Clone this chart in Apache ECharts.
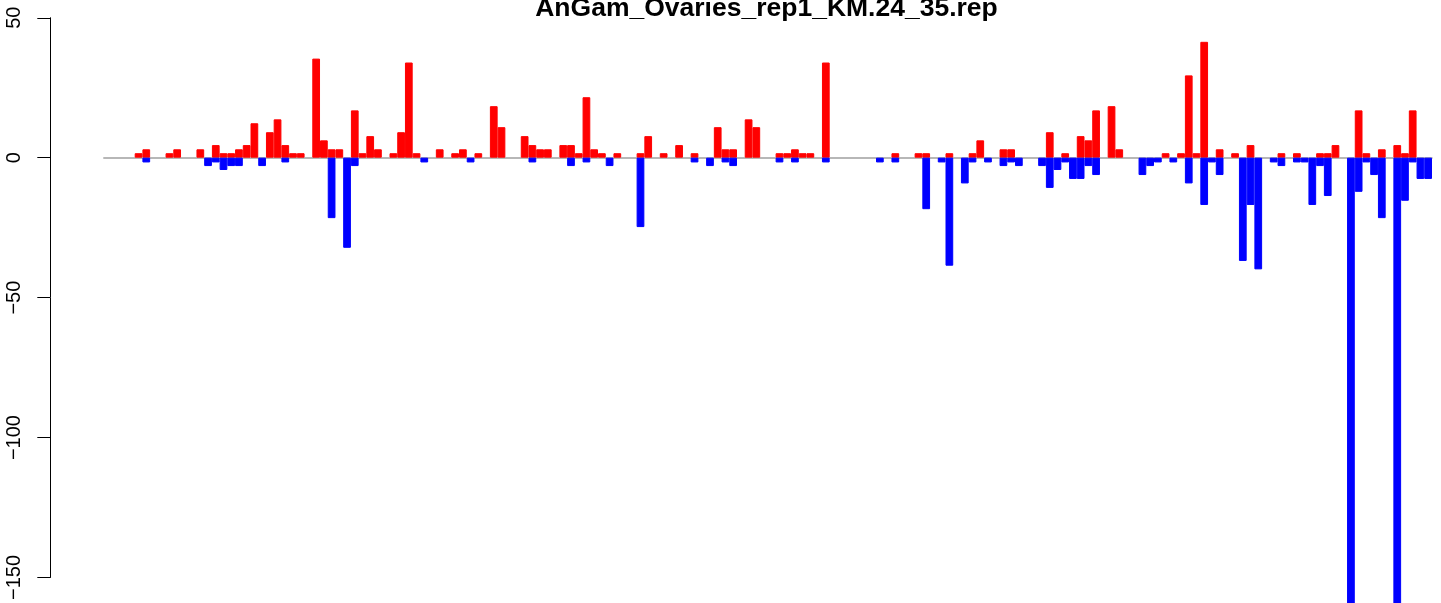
<!DOCTYPE html>
<html>
<head>
<meta charset="utf-8">
<script src="https://cdn.jsdelivr.net/npm/echarts@6/dist/echarts.min.js"></script>
<style>
html,body{margin:0;padding:0;background:#fff;}
#chart{width:1441px;height:603px;}
</style>
</head>
<body>
<div id="chart"></div>
<script>
const chartTitle = 'AnGam_Ovaries_rep1_KM.24_35.rep';
const yTicks = [-150, -100, -50, 0, 50];

const redValues = [
  0,0,0,0,1.6,3.0,0,0,1.6,3.0,
  0,0,3.0,0,4.5,1.6,1.6,3.0,4.5,12.3,
  0,9.1,13.7,4.5,1.6,1.6,0,35.4,6.2,3.0,
  3.0,0,16.9,1.6,7.7,3.0,0,1.6,9.1,34.0,
  1.6,0,0,3.0,0,1.6,3.0,0,1.6,0,
  18.4,10.9,0,0,7.7,4.5,3.0,3.0,0,4.5,
  4.5,1.6,21.6,3.0,1.6,0,1.6,0,0,1.6,
  7.7,0,1.6,0,4.5,0,1.6,0,0,10.9,
  3.0,3.0,0,13.7,10.9,0,0,1.6,1.6,3.0,
  1.6,1.6,0,34.0,0,0,0,0,0,0,
  0,0,1.6,0,0,1.6,1.6,0,0,1.6,
  0,0,1.6,6.2,0,0,3.0,3.0,0,0,
  0,0,9.1,0,1.6,0,7.7,6.2,16.9,0,
  18.4,3.0,0,0,0,0,0,1.6,0,1.6,
  29.4,1.6,41.4,0,3.0,0,1.6,0,4.5,0,
  0,0,1.6,0,1.6,0,0,1.6,1.6,4.5,
  0,0,16.9,1.6,0,3.0,0,4.5,1.6,16.9,
  0,0
];

const blueValues = [
  0,0,0,0,0,-1.7,0,0,0,0,
  0,0,0,-3.0,-1.7,-4.4,-3.0,-3.0,0,0,
  -3.0,0,0,-1.7,0,0,0,0,0,-21.6,
  0,-32.2,-3.0,0,0,0,0,0,0,0,
  0,-1.7,0,0,0,0,0,-1.7,0,0,
  0,0,0,0,0,-1.7,0,0,0,0,
  -3.0,0,-1.7,0,0,-3.0,0,0,0,-24.8,
  0,0,0,0,0,0,-1.7,0,-3.0,0,
  -1.7,-3.0,0,0,0,0,0,-1.7,0,-1.7,
  0,0,0,-1.7,0,0,0,0,0,0,
  -1.7,0,-1.7,0,0,0,-18.4,0,-1.7,-38.6,
  0,-9.2,-1.7,0,-1.7,0,-3.0,-1.7,-3.0,0,
  0,-3.0,-10.8,-4.4,-1.7,-7.6,-7.6,-3.0,-6.2,0,
  0,0,0,0,-6.2,-3.0,-1.7,0,-1.7,0,
  -9.2,0,-16.9,-1.7,-6.2,0,0,-36.9,-16.9,-39.9,
  0,-1.7,-3.0,0,-1.7,-1.7,-16.9,-3.0,-13.7,0,
  0,-160,-12.2,-1.7,-6.2,-21.6,0,-160,-15.4,-1.7,
  -7.6,-7.6
];

const categories = redValues.map((v, i) => String(i + 1));
// zero-height bars are left empty so they draw nothing over the baseline
const asBars = arr => arr.map(v => (v === 0 ? '-' : v));

const chart = echarts.init(document.getElementById('chart'), null, {renderer: 'canvas'});
chart.setOption({
  animation: false,
  backgroundColor: '#ffffff',
  title: {
    text: chartTitle,
    left: 766.5,
    top: -5,
    padding: 0,
    textAlign: 'center',
    textStyle: {
      fontFamily: 'Liberation Sans',
      fontWeight: 'bold',
      fontSize: 26.5,
      color: '#000'
    }
  },
  grid: {
    left: 103.8,
    right: 9,
    top: 17.75,
    bottom: 22.25,
    containLabel: false
  },
  xAxis: {
    type: 'category',
    data: categories,
    boundaryGap: true,
    axisLine: {show: true, onZero: true, lineStyle: {color: '#a0a0a0', width: 1.5}},
    axisTick: {show: false},
    axisLabel: {show: false},
    splitLine: {show: false}
  },
  yAxis: {
    type: 'value',
    min: yTicks[0],
    max: yTicks[yTicks.length - 1],
    interval: 50,
    offset: 53.5,
    axisLine: {show: true, lineStyle: {color: '#000', width: 1}},
    axisTick: {show: true, length: 13, lineStyle: {color: '#000', width: 1}},
    axisLabel: {
      show: true,
      rotate: 90,
      margin: 26,
      fontFamily: 'Liberation Sans',
      fontSize: 20,
      color: '#000',
      formatter: v => String(v).replace('-', '\u2212')
    },
    splitLine: {show: false}
  },
  series: [
    {
      name: 'up',
      type: 'bar',
      data: asBars(redValues),
      barWidth: '100%',
      barGap: '-100%',
      clip: false,
      itemStyle: {color: '#ff0000', borderColor: '#ff0000', borderWidth: 1}
    },
    {
      name: 'down',
      type: 'bar',
      data: asBars(blueValues),
      barWidth: '100%',
      barGap: '-100%',
      clip: false,
      itemStyle: {color: '#0000ff', borderColor: '#0000ff', borderWidth: 1}
    }
  ]
});
</script>
</body>
</html>
